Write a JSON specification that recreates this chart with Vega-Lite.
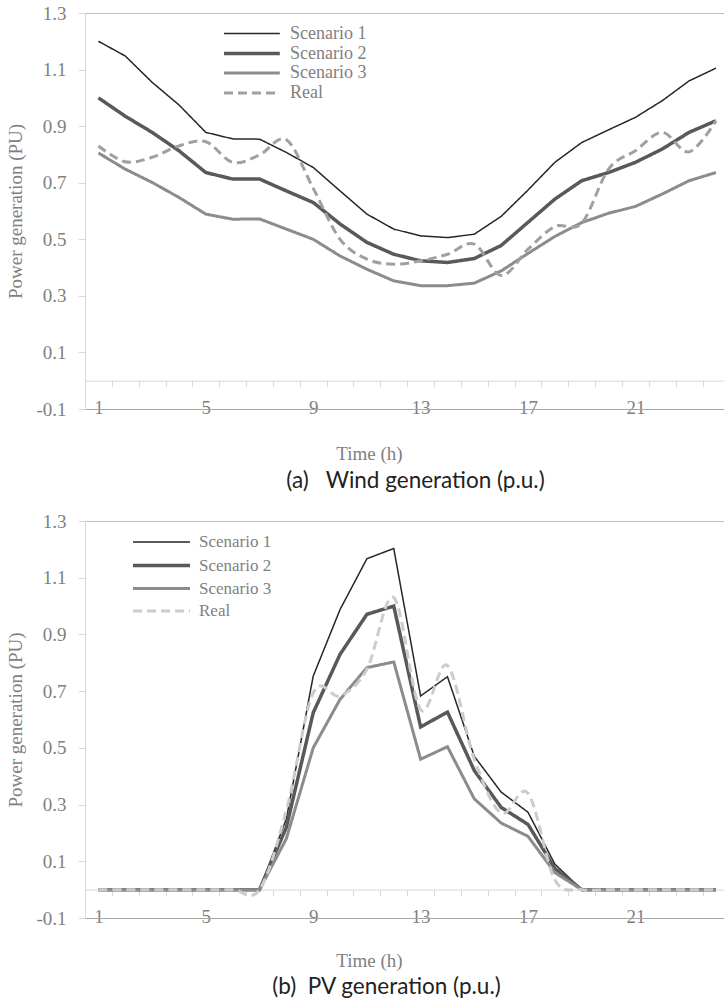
{
  "$schema": "https://vega.github.io/schema/vega-lite/v6.json",
  "padding": {"left": 6, "top": 4, "right": 0, "bottom": 0},
  "background": "white",
  "spacing": 19,
  "config": {"view": {"stroke": null}},
  "datasets": {
    "wind": [
      {"h":1,"series":"Scenario 1","v":1.2},{"h":2,"series":"Scenario 1","v":1.148},{"h":3,"series":"Scenario 1","v":1.055},{"h":4,"series":"Scenario 1","v":0.975},{"h":5,"series":"Scenario 1","v":0.878},{"h":6,"series":"Scenario 1","v":0.855},{"h":7,"series":"Scenario 1","v":0.854},{"h":8,"series":"Scenario 1","v":0.807},{"h":9,"series":"Scenario 1","v":0.754},{"h":10,"series":"Scenario 1","v":0.671},{"h":11,"series":"Scenario 1","v":0.589},{"h":12,"series":"Scenario 1","v":0.536},{"h":13,"series":"Scenario 1","v":0.512},{"h":14,"series":"Scenario 1","v":0.506},{"h":15,"series":"Scenario 1","v":0.518},{"h":16,"series":"Scenario 1","v":0.581},{"h":17,"series":"Scenario 1","v":0.674},{"h":18,"series":"Scenario 1","v":0.772},{"h":19,"series":"Scenario 1","v":0.842},{"h":20,"series":"Scenario 1","v":0.887},{"h":21,"series":"Scenario 1","v":0.931},{"h":22,"series":"Scenario 1","v":0.99},{"h":23,"series":"Scenario 1","v":1.06},{"h":24,"series":"Scenario 1","v":1.105},
      {"h":1,"series":"Scenario 2","v":1.0},{"h":2,"series":"Scenario 2","v":0.935},{"h":3,"series":"Scenario 2","v":0.878},{"h":4,"series":"Scenario 2","v":0.813},{"h":5,"series":"Scenario 2","v":0.736},{"h":6,"series":"Scenario 2","v":0.713},{"h":7,"series":"Scenario 2","v":0.713},{"h":8,"series":"Scenario 2","v":0.671},{"h":9,"series":"Scenario 2","v":0.63},{"h":10,"series":"Scenario 2","v":0.554},{"h":11,"series":"Scenario 2","v":0.489},{"h":12,"series":"Scenario 2","v":0.447},{"h":13,"series":"Scenario 2","v":0.424},{"h":14,"series":"Scenario 2","v":0.418},{"h":15,"series":"Scenario 2","v":0.432},{"h":16,"series":"Scenario 2","v":0.478},{"h":17,"series":"Scenario 2","v":0.56},{"h":18,"series":"Scenario 2","v":0.642},{"h":19,"series":"Scenario 2","v":0.707},{"h":20,"series":"Scenario 2","v":0.736},{"h":21,"series":"Scenario 2","v":0.772},{"h":22,"series":"Scenario 2","v":0.819},{"h":23,"series":"Scenario 2","v":0.878},{"h":24,"series":"Scenario 2","v":0.919},
      {"h":1,"series":"Scenario 3","v":0.805},{"h":2,"series":"Scenario 3","v":0.748},{"h":3,"series":"Scenario 3","v":0.701},{"h":4,"series":"Scenario 3","v":0.648},{"h":5,"series":"Scenario 3","v":0.589},{"h":6,"series":"Scenario 3","v":0.571},{"h":7,"series":"Scenario 3","v":0.572},{"h":8,"series":"Scenario 3","v":0.536},{"h":9,"series":"Scenario 3","v":0.5},{"h":10,"series":"Scenario 3","v":0.441},{"h":11,"series":"Scenario 3","v":0.394},{"h":12,"series":"Scenario 3","v":0.353},{"h":13,"series":"Scenario 3","v":0.336},{"h":14,"series":"Scenario 3","v":0.336},{"h":15,"series":"Scenario 3","v":0.345},{"h":16,"series":"Scenario 3","v":0.388},{"h":17,"series":"Scenario 3","v":0.45},{"h":18,"series":"Scenario 3","v":0.51},{"h":19,"series":"Scenario 3","v":0.559},{"h":20,"series":"Scenario 3","v":0.592},{"h":21,"series":"Scenario 3","v":0.616},{"h":22,"series":"Scenario 3","v":0.66},{"h":23,"series":"Scenario 3","v":0.707},{"h":24,"series":"Scenario 3","v":0.736},
      {"h":1,"series":"Real","v":0.83},{"h":2,"series":"Real","v":0.774},{"h":3,"series":"Real","v":0.79},{"h":4,"series":"Real","v":0.83},{"h":5,"series":"Real","v":0.845},{"h":6,"series":"Real","v":0.772},{"h":7,"series":"Real","v":0.798},{"h":8,"series":"Real","v":0.852},{"h":9,"series":"Real","v":0.68},{"h":10,"series":"Real","v":0.5},{"h":11,"series":"Real","v":0.43},{"h":12,"series":"Real","v":0.412},{"h":13,"series":"Real","v":0.424},{"h":14,"series":"Real","v":0.447},{"h":15,"series":"Real","v":0.483},{"h":16,"series":"Real","v":0.372},{"h":17,"series":"Real","v":0.465},{"h":18,"series":"Real","v":0.545},{"h":19,"series":"Real","v":0.557},{"h":20,"series":"Real","v":0.748},{"h":21,"series":"Real","v":0.813},{"h":22,"series":"Real","v":0.878},{"h":23,"series":"Real","v":0.809},{"h":24,"series":"Real","v":0.919}
    ],
    "pv": [
      {"h":1,"series":"Scenario 1","v":0},{"h":2,"series":"Scenario 1","v":0},{"h":3,"series":"Scenario 1","v":0},{"h":4,"series":"Scenario 1","v":0},{"h":5,"series":"Scenario 1","v":0},{"h":6,"series":"Scenario 1","v":0},{"h":7,"series":"Scenario 1","v":0},{"h":8,"series":"Scenario 1","v":0.25},{"h":9,"series":"Scenario 1","v":0.753},{"h":10,"series":"Scenario 1","v":0.988},{"h":11,"series":"Scenario 1","v":1.167},{"h":12,"series":"Scenario 1","v":1.203},{"h":13,"series":"Scenario 1","v":0.683},{"h":14,"series":"Scenario 1","v":0.751},{"h":15,"series":"Scenario 1","v":0.47},{"h":16,"series":"Scenario 1","v":0.344},{"h":17,"series":"Scenario 1","v":0.273},{"h":18,"series":"Scenario 1","v":0.09},{"h":19,"series":"Scenario 1","v":0},{"h":20,"series":"Scenario 1","v":0},{"h":21,"series":"Scenario 1","v":0},{"h":22,"series":"Scenario 1","v":0},{"h":23,"series":"Scenario 1","v":0},{"h":24,"series":"Scenario 1","v":0},
      {"h":1,"series":"Scenario 2","v":0},{"h":2,"series":"Scenario 2","v":0},{"h":3,"series":"Scenario 2","v":0},{"h":4,"series":"Scenario 2","v":0},{"h":5,"series":"Scenario 2","v":0},{"h":6,"series":"Scenario 2","v":0},{"h":7,"series":"Scenario 2","v":0},{"h":8,"series":"Scenario 2","v":0.22},{"h":9,"series":"Scenario 2","v":0.624},{"h":10,"series":"Scenario 2","v":0.83},{"h":11,"series":"Scenario 2","v":0.971},{"h":12,"series":"Scenario 2","v":1.0},{"h":13,"series":"Scenario 2","v":0.574},{"h":14,"series":"Scenario 2","v":0.626},{"h":15,"series":"Scenario 2","v":0.42},{"h":16,"series":"Scenario 2","v":0.29},{"h":17,"series":"Scenario 2","v":0.23},{"h":18,"series":"Scenario 2","v":0.075},{"h":19,"series":"Scenario 2","v":0},{"h":20,"series":"Scenario 2","v":0},{"h":21,"series":"Scenario 2","v":0},{"h":22,"series":"Scenario 2","v":0},{"h":23,"series":"Scenario 2","v":0},{"h":24,"series":"Scenario 2","v":0},
      {"h":1,"series":"Scenario 3","v":0},{"h":2,"series":"Scenario 3","v":0},{"h":3,"series":"Scenario 3","v":0},{"h":4,"series":"Scenario 3","v":0},{"h":5,"series":"Scenario 3","v":0},{"h":6,"series":"Scenario 3","v":0},{"h":7,"series":"Scenario 3","v":0},{"h":8,"series":"Scenario 3","v":0.18},{"h":9,"series":"Scenario 3","v":0.5},{"h":10,"series":"Scenario 3","v":0.671},{"h":11,"series":"Scenario 3","v":0.783},{"h":12,"series":"Scenario 3","v":0.803},{"h":13,"series":"Scenario 3","v":0.46},{"h":14,"series":"Scenario 3","v":0.504},{"h":15,"series":"Scenario 3","v":0.32},{"h":16,"series":"Scenario 3","v":0.235},{"h":17,"series":"Scenario 3","v":0.188},{"h":18,"series":"Scenario 3","v":0.06},{"h":19,"series":"Scenario 3","v":0},{"h":20,"series":"Scenario 3","v":0},{"h":21,"series":"Scenario 3","v":0},{"h":22,"series":"Scenario 3","v":0},{"h":23,"series":"Scenario 3","v":0},{"h":24,"series":"Scenario 3","v":0},
      {"h":1,"series":"Real","v":0},{"h":2,"series":"Real","v":0},{"h":3,"series":"Real","v":0},{"h":4,"series":"Real","v":0},{"h":5,"series":"Real","v":0},{"h":6,"series":"Real","v":0},{"h":7,"series":"Real","v":0},{"h":8,"series":"Real","v":0.28},{"h":9,"series":"Real","v":0.694},{"h":10,"series":"Real","v":0.683},{"h":11,"series":"Real","v":0.777},{"h":12,"series":"Real","v":1.03},{"h":13,"series":"Real","v":0.635},{"h":14,"series":"Real","v":0.79},{"h":15,"series":"Real","v":0.46},{"h":16,"series":"Real","v":0.27},{"h":17,"series":"Real","v":0.34},{"h":18,"series":"Real","v":0.035},{"h":19,"series":"Real","v":0},{"h":20,"series":"Real","v":0},{"h":21,"series":"Real","v":0},{"h":22,"series":"Real","v":0},{"h":23,"series":"Real","v":0},{"h":24,"series":"Real","v":0}
    ]
  },
  "resolve": {"scale": {"color": "independent", "strokeWidth": "independent", "strokeDash": "independent"}, "legend": {"color": "independent", "strokeWidth": "independent", "strokeDash": "independent"}},
  "vconcat": [
    {
      "width": 639,
      "height": 396,
      "data": {"name": "wind"},
      "title": {"text": "(a)\u00a0\u00a0\u00a0Wind generation (p.u.)", "orient": "bottom", "font": "Lato", "fontSize": 22.5, "fontWeight": "normal", "color": "#222222", "offset": 7, "dx": 11},
      "encoding": {
        "y": {"field": "v", "type": "quantitative", "scale": {"domain": [-0.1, 1.3], "nice": false, "zero": false},
          "axis": {"values": [-0.1, 0.1, 0.3, 0.5, 0.7, 0.9, 1.1, 1.3], "labelExpr": "replace(format(datum.value, '.1f'), '\u2212', '-')", "labelFont": "Liberation Serif", "labelFontSize": 19, "labelColor": "#7f7f7f", "labelPadding": 12, "tickSize": 7, "tickColor": "#d9d9d9", "domainColor": "#d9d9d9", "grid": true, "gridColor": "#bfbfbf", "gridOpacity": {"condition": {"test": "datum.value > 1.25", "value": 1}, "value": 0}, "title": "Power generation (PU)", "titleFont": "Liberation Serif", "titleFontSize": 19, "titleFontWeight": "normal", "titleColor": "#7f7f7f", "titlePadding": 10}},
        "color": {"field": "series", "type": "nominal", "scale": {"domain": ["Scenario 1", "Scenario 2", "Scenario 3", "Real"], "range": ["#262626", "#595959", "#8c8c8c", "#a0a0a0"]},
          "legend": {"title": null, "orient": "none", "legendX": 137, "legendY": 10.5, "symbolType": "M-1,0L5.2,0", "symbolSize": 324, "labelFont": "Liberation Serif", "labelFontSize": 18, "labelColor": "#7f7f7f", "labelOffset": 46, "rowPadding": -6, "padding": 0}},
        "strokeWidth": {"field": "series", "type": "nominal", "scale": {"type": "ordinal", "domain": ["Scenario 1", "Scenario 2", "Scenario 3", "Real"], "range": [1.5, 3.5, 3, 3]}, "legend": {"title": null}},
        "strokeDash": {"field": "series", "type": "nominal", "scale": {"domain": ["Scenario 1", "Scenario 2", "Scenario 3", "Real"], "range": [[1, 0], [1, 0], [1, 0], [9, 5]]}, "legend": {"title": null}}
      },
      "resolve": {"axis": {"x": "independent"}},
      "layer": [
        {
          "transform": [{"filter": "datum.series != 'Real'"}],
          "mark": {"type": "line"},
          "encoding": {
            "x": {"field": "h", "type": "quantitative", "scale": {"domain": [0.5, 24.3], "nice": false, "zero": false},
              "axis": {"orient": "bottom", "values": [1, 5, 9, 13, 17, 21], "format": "d", "labelFont": "Liberation Serif", "labelFontSize": 19, "labelColor": "#7f7f7f", "labelBaseline": "middle", "labelPadding": -2, "tickSize": 0, "domainColor": "#a6a6a6", "grid": false, "title": "Time (h)", "titleFont": "Liberation Serif", "titleFontSize": 19, "titleFontWeight": "normal", "titleColor": "#7f7f7f", "titleX": 284, "titleY": 50, "titleBaseline": "alphabetic"}}
          }
        },
        {
          "transform": [{"filter": "datum.series == 'Real'"}],
          "mark": {"type": "line", "interpolate": "cardinal", "tension": 0},
          "encoding": {
            "x": {"field": "h", "type": "quantitative", "scale": {"domain": [0.5, 24.3], "nice": false, "zero": false},
              "axis": {"orient": "bottom", "offset": -28.3, "values": [1.5, 2.5, 3.5, 4.5, 5.5, 6.5, 7.5, 8.5, 9.5, 10.5, 11.5, 12.5, 13.5, 14.5, 15.5, 16.5, 17.5, 18.5, 19.5, 20.5, 21.5, 22.5, 23.5], "labels": false, "tickSize": 6, "tickColor": "#d9d9d9", "domainColor": "#d9d9d9", "grid": false, "title": null}}
          }
        }
      ]
    },
    {
      "width": 639,
      "height": 397,
      "data": {"name": "pv"},
      "title": {"text": "(b)\u00a0\u00a0PV generation (p.u.)", "orient": "bottom", "font": "Lato", "fontSize": 22.5, "fontWeight": "normal", "color": "#222222", "offset": 6, "dx": -18},
      "encoding": {
        "y": {"field": "v", "type": "quantitative", "scale": {"domain": [-0.1, 1.3], "nice": false, "zero": false},
          "axis": {"values": [-0.1, 0.1, 0.3, 0.5, 0.7, 0.9, 1.1, 1.3], "labelExpr": "replace(format(datum.value, '.1f'), '\u2212', '-')", "labelFont": "Liberation Serif", "labelFontSize": 19, "labelColor": "#7f7f7f", "labelPadding": 12, "tickSize": 7, "tickColor": "#d9d9d9", "domainColor": "#d9d9d9", "grid": true, "gridColor": "#bfbfbf", "gridOpacity": {"condition": {"test": "datum.value > 1.25", "value": 1}, "value": 0}, "title": "Power generation (PU)", "titleFont": "Liberation Serif", "titleFontSize": 19, "titleFontWeight": "normal", "titleColor": "#7f7f7f", "titlePadding": 10}},
        "color": {"field": "series", "type": "nominal", "scale": {"domain": ["Scenario 1", "Scenario 2", "Scenario 3", "Real"], "range": ["#262626", "#595959", "#8c8c8c", "#cccccc"]},
          "legend": {"title": null, "orient": "none", "legendX": 46, "legendY": 10.5, "symbolType": "M-1,0L5,0", "symbolSize": 361, "labelFont": "Liberation Serif", "labelFontSize": 17, "labelColor": "#7f7f7f", "labelOffset": 45, "rowPadding": 3.5, "padding": 0}},
        "strokeWidth": {"field": "series", "type": "nominal", "scale": {"type": "ordinal", "domain": ["Scenario 1", "Scenario 2", "Scenario 3", "Real"], "range": [1.5, 3.5, 3, 3]}, "legend": {"title": null}},
        "strokeDash": {"field": "series", "type": "nominal", "scale": {"domain": ["Scenario 1", "Scenario 2", "Scenario 3", "Real"], "range": [[1, 0], [1, 0], [1, 0], [9, 5]]}, "legend": {"title": null}}
      },
      "resolve": {"axis": {"x": "independent"}},
      "layer": [
        {
          "transform": [{"filter": "datum.series != 'Real'"}],
          "mark": {"type": "line"},
          "encoding": {
            "x": {"field": "h", "type": "quantitative", "scale": {"domain": [0.5, 24.3], "nice": false, "zero": false},
              "axis": {"orient": "bottom", "values": [1, 5, 9, 13, 17, 21], "format": "d", "labelFont": "Liberation Serif", "labelFontSize": 19, "labelColor": "#7f7f7f", "labelBaseline": "middle", "labelPadding": -2, "tickSize": 0, "domainColor": "#a6a6a6", "grid": false, "title": "Time (h)", "titleFont": "Liberation Serif", "titleFontSize": 19, "titleFontWeight": "normal", "titleColor": "#7f7f7f", "titleX": 284, "titleY": 48, "titleBaseline": "alphabetic"}}
          }
        },
        {
          "transform": [{"filter": "datum.series == 'Real'"}],
          "mark": {"type": "line", "interpolate": "cardinal", "tension": 0},
          "encoding": {
            "x": {"field": "h", "type": "quantitative", "scale": {"domain": [0.5, 24.3], "nice": false, "zero": false},
              "axis": {"orient": "bottom", "offset": -28.4, "values": [1.5, 2.5, 3.5, 4.5, 5.5, 6.5, 7.5, 8.5, 9.5, 10.5, 11.5, 12.5, 13.5, 14.5, 15.5, 16.5, 17.5, 18.5, 19.5, 20.5, 21.5, 22.5, 23.5], "labels": false, "tickSize": 6, "tickColor": "#d9d9d9", "domainColor": "#d9d9d9", "grid": false, "title": null}}
          }
        }
      ]
    }
  ]
}
